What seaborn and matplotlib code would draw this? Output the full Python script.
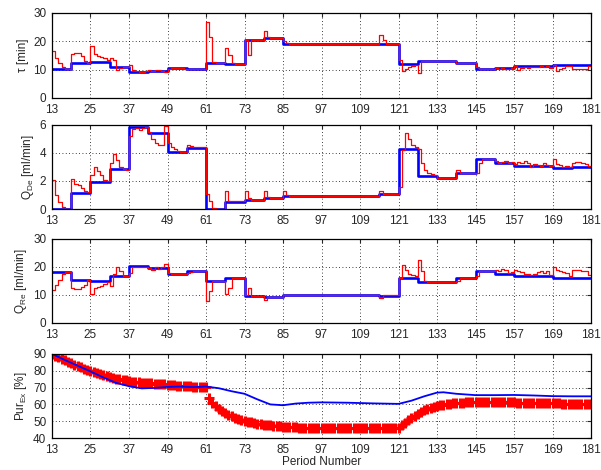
import numpy as np
import pandas as pd
import matplotlib
matplotlib.use('Agg')
import matplotlib.pyplot as plt
import seaborn as sns

# ---- data ----
period_ticks = list(range(13, 182, 12))
block_start = list(range(13, 182, 6))      # 13, 19, ... 181 (last is end point)
periods = list(range(13, 182))

# set points (blue), one value per 6-period block
tau_set = [10.3, 12.4, 12.6, 11.1, 9.3, 9.4, 10.6, 10.1, 12.5, 12.0, 20.3, 21.3, 19.2, 19.2,
           19.2, 19.2, 19.2, 19.1, 12.0, 13.1, 13.1, 12.3, 10.3, 10.7, 11.2, 11.2, 11.7, 11.7]
qde_set = [0.0, 1.12, 1.95, 2.83, 5.83, 5.45, 4.05, 4.38, 0.0, 0.5, 0.65, 0.8, 0.95, 0.95,
           0.95, 0.95, 0.95, 1.1, 4.26, 2.38, 2.2, 2.6, 3.55, 3.3, 3.06, 3.06, 2.9, 2.97]
qre_set = [18.2, 15.3, 14.9, 16.8, 20.2, 19.6, 17.5, 18.6, 15.0, 16.1, 9.5, 9.1, 10.0, 10.0,
           10.0, 10.0, 10.0, 9.8, 16.0, 14.5, 14.5, 16.0, 18.6, 17.6, 16.6, 16.6, 16.1, 16.2]

# measured / applied values (red), one per period 13..180
tau_act = [16.5, 14.0, 12.5, 11.0, 10.3, 10.3,
           15.5, 16.0, 15.8, 14.8, 13.2, 12.5,
           18.5, 15.5, 14.8, 14.5, 14.0, 13.5,
           14.2, 13.5, 9.8, 10.5, 11.0, 11.1,
           11.6, 10.0, 9.4, 9.3, 9.3, 9.4,
           9.8, 9.5, 9.7, 9.8, 9.6, 9.0,
           10.4, 10.6, 10.6, 10.6, 10.5, 10.3,
           10.1, 10.1, 10.1, 10.1, 10.1, 10.1,
           26.7, 21.5, 12.6, 12.5, 12.5, 12.5,
           17.8, 15.2, 12.2, 12.0, 12.0, 12.0,
           20.3, 15.2, 20.3, 20.3, 20.3, 20.3,
           23.7, 21.6, 21.3, 21.3, 21.3, 21.0,
           20.0, 19.3, 19.2, 19.2, 19.2, 19.2,
           19.2, 19.2, 19.2, 19.2, 19.2, 19.2,
           19.2, 19.2, 19.2, 19.2, 19.2, 19.2,
           19.2, 19.2, 19.2, 19.2, 19.2, 19.2,
           19.2, 19.2, 19.2, 19.2, 19.2, 19.2,
           22.3, 20.3, 19.2, 19.2, 19.2, 19.2,
           13.5, 9.5, 10.3, 11.0, 11.4, 11.6,
           8.8, 13.1, 13.1, 13.1, 13.1, 13.1,
           13.1, 13.1, 13.1, 13.1, 13.1, 13.1,
           12.4, 12.3, 12.3, 12.3, 12.3, 12.3,
           10.8, 10.2, 10.2, 10.2, 10.2, 10.3,
           10.5, 10.2, 10.6, 10.3, 10.1, 10.6,
           11.2, 9.8, 10.5, 10.8, 10.7, 11.0,
           11.1, 10.8, 11.2, 11.0, 11.3, 10.5,
           11.8, 9.4, 10.4, 10.7, 11.2, 11.4,
           10.3, 10.2, 10.2, 10.2, 10.3, 11.2]
qde_act = [2.1, 1.0, 0.5, 0.15, 0.0, 0.0,
           2.15, 1.8, 1.7, 1.5, 1.3, 1.2,
           2.4, 3.0, 2.7, 2.4, 2.1, 2.0,
           3.3, 3.9, 3.5, 3.0, 2.85, 2.8,
           5.2, 5.7, 5.8, 5.65, 5.8, 5.85,
           5.5, 5.0, 4.7, 4.55, 4.6, 5.9,
           4.7, 4.4, 4.25, 4.15, 4.1, 4.1,
           4.55, 4.5, 4.45, 4.4, 4.4, 4.4,
           1.1, 0.6, 0.1, 0.0, 0.0, 0.0,
           1.3, 0.6, 0.55, 0.55, 0.55, 0.55,
           1.3, 0.8, 0.65, 0.65, 0.65, 0.65,
           1.3, 0.85, 0.8, 0.8, 0.8, 0.8,
           1.3, 1.0, 0.95, 0.95, 0.95, 0.95,
           0.95, 0.95, 0.95, 0.95, 0.95, 0.95,
           0.95, 0.95, 0.95, 0.95, 0.95, 0.95,
           0.95, 0.95, 0.95, 0.95, 0.95, 0.95,
           0.95, 0.95, 0.95, 0.95, 0.95, 0.95,
           1.25, 1.1, 1.1, 1.1, 1.1, 1.1,
           1.6, 4.2, 5.4, 5.0, 4.6, 4.4,
           4.3, 3.3, 2.8, 2.6, 2.5, 2.4,
           2.2, 2.2, 2.2, 2.2, 2.2, 2.2,
           2.75, 2.6, 2.6, 2.6, 2.6, 2.6,
           2.6, 3.3, 3.55, 3.55, 3.55, 3.55,
           3.4, 3.3, 3.35, 3.4, 3.3, 3.35,
           3.2, 3.35, 3.25, 3.4, 3.3, 3.0,
           3.2, 3.15, 3.1, 3.3, 3.15, 3.1,
           3.55, 3.2, 3.15, 3.0, 3.1, 3.0,
           3.3, 3.35, 3.35, 3.3, 3.2, 3.1]
qre_act = [11.6, 13.5, 15.5, 17.5, 18.2, 18.2,
           12.4, 12.0, 12.2, 12.8, 13.5, 15.3,
           10.3, 12.3, 12.8, 13.3, 13.8, 14.5,
           13.3, 17.5, 20.0, 18.5, 16.8, 16.8,
           18.0, 20.0, 20.1, 20.1, 20.1, 20.1,
           19.5, 19.0, 19.8, 19.3, 19.8, 21.0,
           18.0, 17.5, 17.5, 17.5, 17.5, 17.5,
           17.8, 18.3, 18.5, 18.5, 18.5, 18.5,
           7.8, 11.5, 15.0, 15.0, 15.0, 15.0,
           10.5, 12.5, 16.0, 16.0, 16.0, 16.0,
           10.0, 12.3, 9.5, 9.5, 9.5, 9.5,
           8.3, 9.1, 9.1, 9.1, 9.1, 9.1,
           10.0, 10.0, 10.0, 10.0, 10.0, 10.0,
           10.0, 10.0, 10.0, 10.0, 10.0, 10.0,
           10.0, 10.0, 10.0, 10.0, 10.0, 10.0,
           10.0, 10.0, 10.0, 10.0, 10.0, 10.0,
           10.0, 10.0, 10.0, 10.0, 10.0, 10.0,
           8.9, 10.0, 10.0, 10.0, 10.0, 10.0,
           16.0, 20.8, 19.0, 17.5, 17.0, 16.8,
           22.3, 18.5, 14.8, 14.5, 14.5, 14.5,
           14.5, 14.5, 14.5, 14.5, 14.5, 14.5,
           15.0, 16.0, 16.0, 16.0, 16.0, 16.0,
           16.6, 18.6, 18.6, 18.6, 18.6, 18.6,
           19.0, 18.5, 19.2, 18.8, 18.0, 18.2,
           19.0, 18.5, 18.2, 17.6, 17.4, 17.2,
           17.6, 18.2, 18.5, 17.8, 18.6, 17.0,
           20.1, 19.0, 18.5, 18.1, 17.8, 16.8,
           18.9, 18.9, 18.9, 18.5, 18.4, 17.2]

# purity: blue = reference curve, red + = per period (13..181)
pur_ref_x = [13, 17, 21, 25, 29, 33, 37, 41, 45, 49, 53, 57, 61, 65, 69, 73, 77, 81, 85,
             89, 93, 97, 105, 113, 121, 125, 129, 133, 135, 139, 145, 151, 157, 163, 169, 175, 181]
pur_ref_y = [90.0, 86.4, 83.0, 79.6, 76.0, 72.8, 70.8, 69.5, 69.8, 70.4, 70.6, 70.3, 70.6,
             69.6, 67.8, 66.3, 63.0, 60.0, 59.5, 60.5, 61.0, 61.2, 61.0, 60.6, 60.3, 62.2,
             64.8, 67.0, 67.2, 66.3, 65.5, 65.5, 65.6, 65.3, 64.9, 64.8, 64.8]
pur_act = [90.0, 89.0, 88.0, 87.1, 86.2, 85.3,
           84.5, 83.6, 82.8, 82.0, 81.2, 80.4,
           79.7, 79.0, 78.4, 77.8, 77.2, 76.7,
           76.2, 75.7, 75.3, 74.9, 74.5, 74.2,
           73.9, 73.6, 73.4, 73.2, 73.0, 72.8,
           72.7, 72.6, 72.4, 72.3, 72.1, 72.0,
           71.8, 71.6, 71.4, 71.2, 71.0, 70.9,
           70.8, 70.7, 70.6, 70.5, 70.4, 70.3,
           70.2, 63.5, 61.0, 59.0, 57.4, 56.0,
           54.8, 53.8, 52.9, 52.1, 51.4, 50.8,
           50.3, 49.8, 49.4, 49.0, 48.6, 48.3,
           48.0, 47.7, 47.5, 47.3, 47.1, 46.9,
           46.7, 46.6, 46.5, 46.4, 46.3, 46.2,
           46.1, 46.1, 46.1, 46.1, 46.1, 46.1,
           46.1, 46.1, 46.0, 46.0, 46.0, 46.0,
           46.0, 46.0, 46.0, 46.0, 46.0, 46.0,
           46.0, 46.0, 46.0, 46.0, 46.0, 46.0,
           46.0, 46.0, 46.0, 46.0, 46.0, 46.0,
           46.2, 47.5, 49.0, 50.5, 52.0, 53.3,
           54.5, 55.5, 56.4, 57.2, 57.9, 58.5,
           59.0, 59.4, 59.8, 60.1, 60.4, 60.6,
           60.8, 61.0, 61.1, 61.2, 61.3, 61.3,
           61.3, 61.3, 61.3, 61.3, 61.3, 61.3,
           61.3, 61.3, 61.3, 61.2, 61.2, 61.2,
           61.2, 61.1, 61.1, 61.1, 61.0, 61.0,
           61.0, 60.9, 60.9, 60.8, 60.8, 60.7,
           60.7, 60.6, 60.6, 60.5, 60.5, 60.4,
           60.4, 60.4, 60.3, 60.3, 60.3, 60.2,
           60.2]

ylabels = ['\u03c4 [min]', r'Q$_{\mathregular{De}}$ [ml/min]',
           r'Q$_{\mathregular{Re}}$ [ml/min]', r'Pur$_{\mathregular{Ex}}$ [%]']

# ---- styling ----
sns.set_style('white')
plt.rcParams['font.family'] = ['Liberation Sans', 'DejaVu Sans']
plt.rcParams['font.size'] = 8.5
plt.rcParams['mathtext.default'] = 'regular'

fig = plt.figure(figsize=(6.01, 4.70), dpi=100)
left, width = 0.0865, 0.897
boxes = [(0.7915, 0.181), (0.5553, 0.179), (0.3128, 0.179), (0.068, 0.179)]
axes = [fig.add_axes([left, b, width, h]) for b, h in boxes]

step_panels = [(tau_set, tau_act, (0, 30), [0, 10, 20, 30]),
               (qde_set, qde_act, (0, 6), [0, 2, 4, 6]),
               (qre_set, qre_act, (0, 30), [0, 10, 20, 30])]

for ax, (sp, act, ylim, yt) in zip(axes[:3], step_panels):
    sns.lineplot(x=block_start, y=sp + [sp[-1]], ax=ax, color='blue', lw=1.9,
                 drawstyle='steps-post', errorbar=None)
    sns.lineplot(x=periods, y=act + [act[-1]], ax=ax, color='red', lw=0.9,
                 drawstyle='steps-post', errorbar=None)
    ax.set_ylim(*ylim)
    ax.set_yticks(yt)

ax = axes[3]
sns.lineplot(x=pur_ref_x, y=pur_ref_y, ax=ax, color='blue', lw=1.3, errorbar=None)
sns.scatterplot(x=periods, y=pur_act, ax=ax, color='red', marker='+', s=45, linewidth=2.2)
ax.set_ylim(40, 90)
ax.set_yticks(range(40, 91, 10))
ax.set_xlabel('Period Number', labelpad=0)

for ax, lab in zip(axes, ylabels):
    ax.set_xlim(13, 181)
    ax.set_xticks(period_ticks)
    ax.set_ylabel(lab, labelpad=3)
    ax.grid(True, color='black', linestyle=(0, (1, 3)), linewidth=0.6)
    ax.tick_params(axis='both', direction='in', length=3, width=0.8, top=True, right=True,
                   labelsize=8.5)
    ax.tick_params(axis='x', pad=4)
    ax.tick_params(axis='y', pad=4)
    for s in ax.spines.values():
        s.set_visible(True)
        s.set_color('black')
        s.set_linewidth(0.9)
    if ax is not axes[3]:
        ax.set_xlabel('')

fig.savefig('out.png', dpi=100)
